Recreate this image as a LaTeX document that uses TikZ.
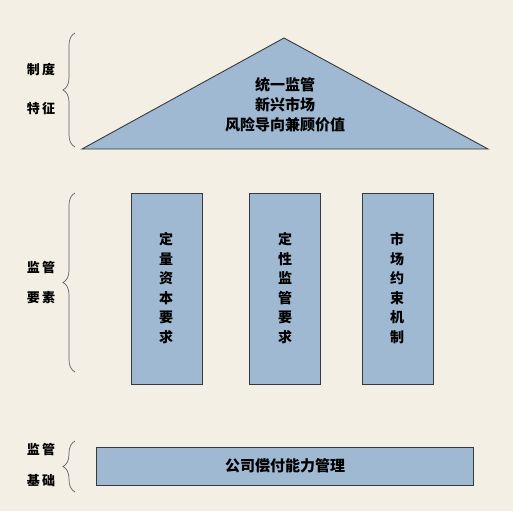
\documentclass[tikz,border=0pt]{standalone}
\usepackage{fontspec}
\newfontfamily\cjk{Noto Sans CJK SC}
\usetikzlibrary{decorations.pathreplacing}
\definecolor{paper}{RGB}{243,239,228}
\definecolor{pillar}{RGB}{158,185,209}
\definecolor{edge}{RGB}{55,58,60}
\tikzset{
  part/.style={draw=edge, line width=0.9pt, fill=pillar},
  lbl/.style={font=\cjk\bfseries\fontsize{13}{13}\selectfont, inner sep=0pt},
  txt/.style={font=\cjk\bfseries\fontsize{15}{20}\selectfont, align=center, inner sep=0pt},
  vtxt/.style={font=\cjk\bfseries\fontsize{14}{19.5}\selectfont, align=center, inner sep=0pt},
  brc/.style={draw=edge!80, line width=0.7pt, decorate, decoration={brace, amplitude=12pt}}
}
\begin{document}
\begin{tikzpicture}[x=1pt, y=-1pt]

\fill[paper] (0, 0) rectangle (513, 511);
\useasboundingbox (0, 0) rectangle (513, 511);

\draw[part] (82, 149) -- (284, 38) -- (488, 149) -- cycle;
\draw (285, 105) node[txt] (roof) {统一监管\\新兴市场\\风险导向兼顾价值};

\draw (75, 147) coordinate (r1);
\draw (75, 33) coordinate (r2);
\draw[brc] (r1) -- (r2);
\draw (41, 70) node[lbl] (roofa) {制\,度};
\draw (41, 109) node[lbl] (roofb) {特\,征};

\draw[part] (131, 193) rectangle (202, 384);
\draw[part] (249, 193) rectangle (320, 384);
\draw[part] (362, 193) rectangle (433, 384);
\draw (166, 288) node[vtxt] (p1) {定\\量\\资\\本\\要\\求};
\draw (285, 288) node[vtxt] (p2) {定\\性\\监\\管\\要\\求};
\draw (397, 288) node[vtxt] (p3) {市\\场\\约\\束\\机\\制};

\draw (75, 372) coordinate (m1);
\draw (75, 193) coordinate (m2);
\draw[brc] (m1) -- (m2);
\draw (41, 268) node[lbl] (pila) {监\,管};
\draw (41, 298) node[lbl] (pilb) {要\,素};

\draw[part] (96, 447) rectangle (473, 485);
\draw (285, 466) node[txt, font=\cjk\bfseries\fontsize{15}{15}\selectfont] (base) {公司偿付能力管理};

\draw (75, 492) coordinate (b1);
\draw (75, 441) coordinate (b2);
\draw[brc] (b1) -- (b2);
\draw (41, 450) node[lbl] (basea) {监\,管};
\draw (41, 481) node[lbl] (baseb) {基\,础};

\end{tikzpicture}
\end{document}
